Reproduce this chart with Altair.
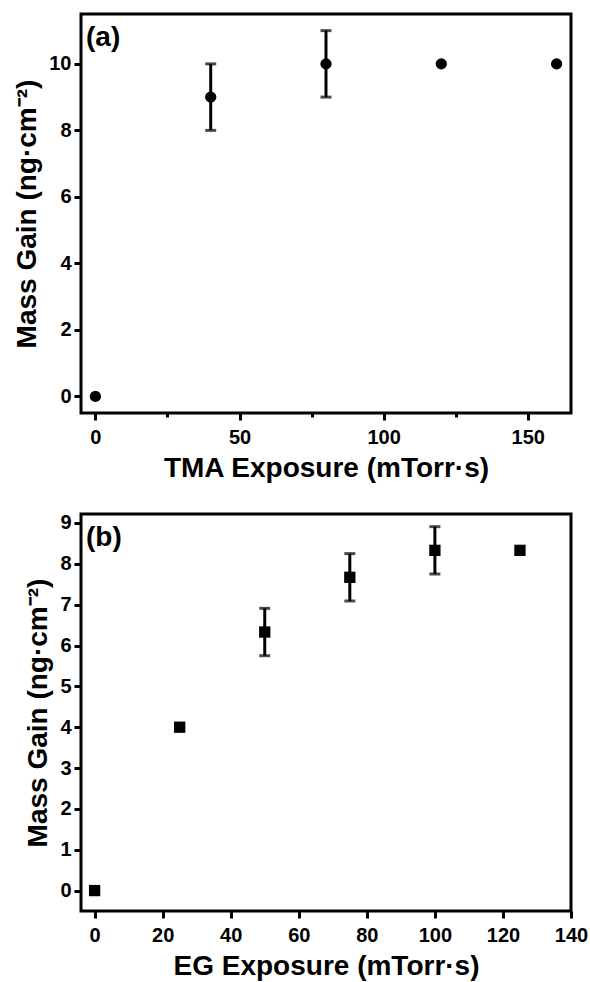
import altair as alt
import pandas as pd

# ---- data ----
tma_exposure = [0, 40, 80, 120, 160]
tma_gain = [0, 9, 10, 10, 10]
tma_err = [0, 1, 1, 0, 0]

eg_exposure = [0, 25, 50, 75, 100, 125]
eg_gain = [0, 4, 6.33, 7.67, 8.33, 8.33]
eg_err = [0, 0, 0.58, 0.58, 0.58, 0]

panel_a_label = "(a)"
panel_b_label = "(b)"
y_title = "Mass Gain (ng·cm⁻²)"
xa_title = "TMA Exposure (mTorr·s)"
xb_title = "EG Exposure (mTorr·s)"

xa_ticks = [0, 25, 50, 75, 100, 125, 150]
ya_ticks = list(range(0, 12))
xb_ticks = list(range(0, 150, 10))
yb_ticks = [i / 2 for i in range(0, 19)]

FONT = "Liberation Sans"


def make_df(xs, ys, es):
    return pd.DataFrame({
        "x": xs, "y": ys,
        "lo": [y - e for y, e in zip(ys, es)],
        "hi": [y + e for y, e in zip(ys, es)],
        "err": es,
    })


def axis(values, major_test, title, label_padding):
    return alt.Axis(
        values=values,
        title=title,
        labelExpr=f"({major_test}) ? datum.label : ''",
        tickSize={"condition": {"test": f"!({major_test})", "value": 4}, "value": 7},
        tickWidth=3,
        tickColor="black",
        domain=False,
        grid=False,
        labelOverlap=False,
        labelFlush=False,
        labelPadding=label_padding,
    )


def panel(df, xdom, ydom, xax, yax, shape, size, label, w, h, label_y):
    base = alt.Chart(df)
    x = alt.X("x:Q", scale=alt.Scale(domain=xdom, nice=False, zero=False), axis=xax)
    y = alt.Y("y:Q", scale=alt.Scale(domain=ydom, nice=False, zero=False), axis=yax)
    errdf = base.transform_filter("datum.err > 0")
    rules = errdf.mark_rule(color="black", strokeWidth=3).encode(
        x=alt.X("x:Q"), y=alt.Y("lo:Q"), y2="hi:Q")
    caps = errdf.transform_fold(["lo", "hi"], as_=["k", "v"]).mark_tick(
        orient="horizontal", color="black", size=11, thickness=3
    ).encode(x=alt.X("x:Q"), y=alt.Y("v:Q"))
    pts = base.mark_point(filled=True, shape=shape, size=size, color="black", opacity=1).encode(
        x=x, y=y)
    txt = alt.Chart(pd.DataFrame({"t": [label]})).mark_text(
        font=FONT, fontWeight="bold", fontSize=28, align="left", baseline="middle", color="black"
    ).encode(x=alt.value(5), y=alt.value(label_y), text="t:N")
    return alt.layer(pts, rules, caps, txt).properties(width=w, height=h)


dfa = make_df(tma_exposure, tma_gain, tma_err)
dfb = make_df(eg_exposure, eg_gain, eg_err)

pa = panel(
    dfa, [-5, 165], [-0.5, 11.5],
    axis(xa_ticks, "datum.value % 50 == 0", xa_title, 7),
    axis(ya_ticks, "datum.value % 2 == 0", y_title, 3),
    "circle", 127, panel_a_label, 490, 399, 24,
)
pb = panel(
    dfb, [-4, 140], [-0.5, 9.22],
    axis(xb_ticks, "datum.value % 20 == 0", xb_title, 7),
    axis(yb_ticks, "datum.value % 1 == 0", y_title, 3),
    "square", 128, panel_b_label, 490, 397, 24,
)

chart = alt.vconcat(pa, pb, spacing=27).properties(
    padding={"left": 12, "top": 12, "right": 0, "bottom": 0},
    background="white",
).configure_view(
    stroke="black", strokeWidth=3
).configure_axis(
    labelFont=FONT, labelFontWeight="bold", labelFontSize=20, labelColor="black",
    titleFont=FONT, titleFontWeight="bold", titleFontSize=28, titleColor="black",
    titlePadding=7,
)

chart.save("out.html", embed_options={"renderer": "svg", "actions": False})
